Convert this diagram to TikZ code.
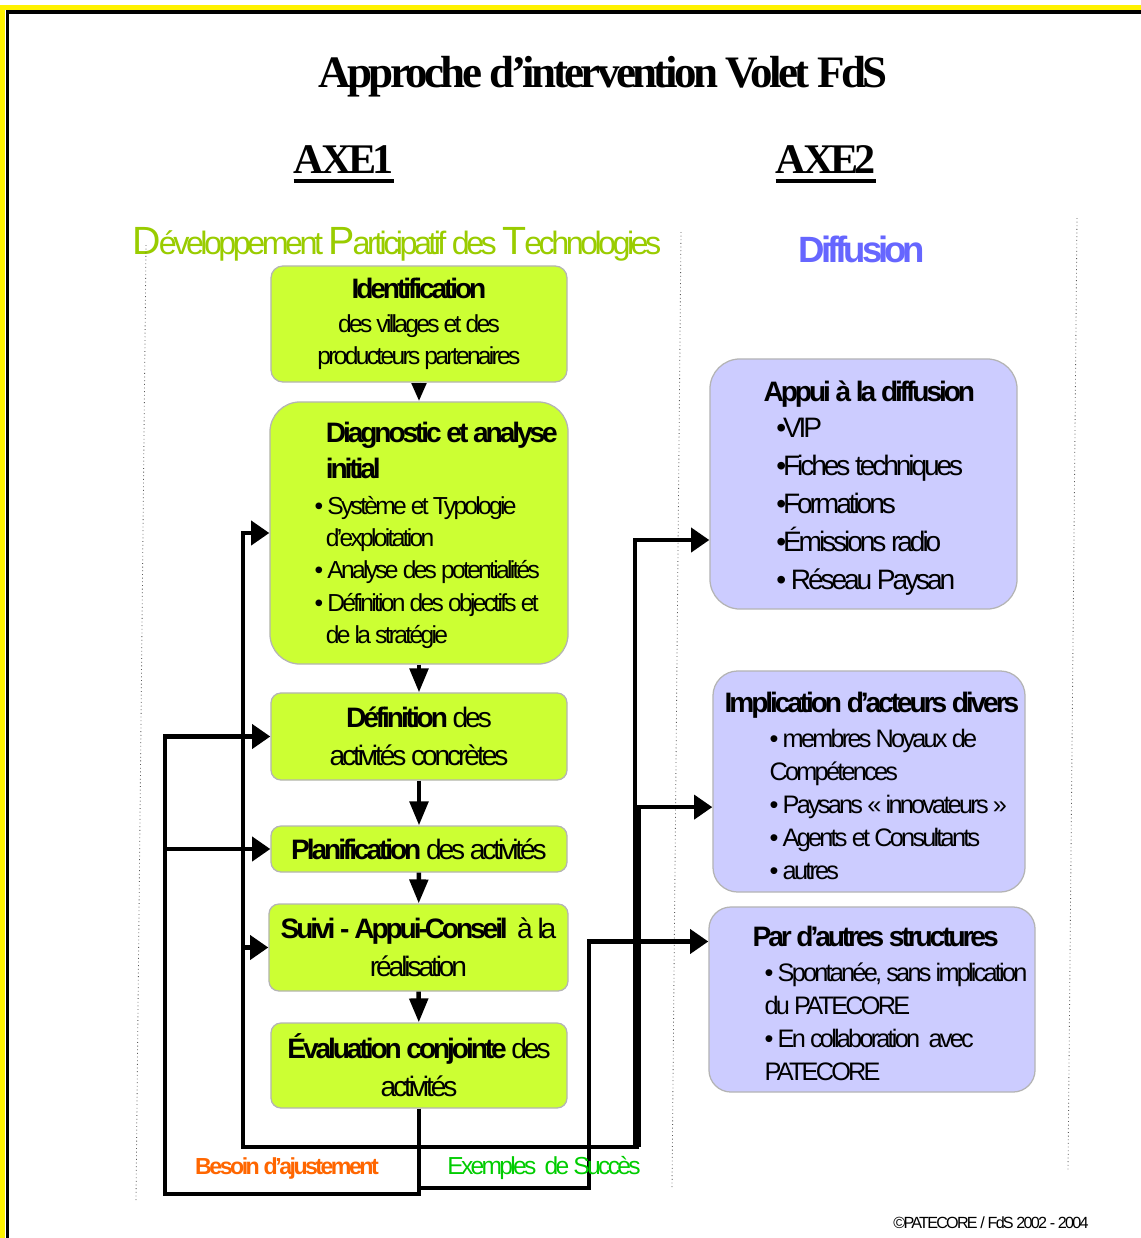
\documentclass[tikz,border=0pt]{standalone}
\usepackage{fontspec}
\setmainfont{Liberation Sans}[LetterSpace=-11]
\newfontfamily\titlefont{Liberation Serif}[LetterSpace=-8]
\usetikzlibrary{arrows.meta}
\definecolor{dptgreen}{HTML}{CCFF33}
\definecolor{diflav}{HTML}{CCCCFF}
\definecolor{boxedge}{HTML}{B4B4B4}
\definecolor{subgreen}{HTML}{99CC00}
\definecolor{difblue}{HTML}{6666FF}
\definecolor{besoinorange}{HTML}{FF6600}
\definecolor{succesgreen}{HTML}{00CC00}
\newcommand{\bodyfont}{\fontsize{17.5}{23}\selectfont}
\newcommand{\midfont}{\fontsize{20}{27}\selectfont}
\newcommand{\headfont}{\fontsize{20}{27}\selectfont\bfseries}
\newcommand{\grandcap}[1]{{\fontsize{28}{30}\selectfont #1}\kern-1.5pt}
\tikzset{
    stepgreen/.style = {
        rectangle,
        draw=boxedge,
        line width=0.9pt,
        fill=dptgreen,
        inner sep=0pt,
        align=center,
        minimum width=7.4cm,
        rounded corners=0.25cm
    },
    stepblue/.style = {
        stepgreen,
        fill=diflav,
        rounded corners=0.7cm
    },
    steptext/.style = {
        inner sep=0pt,
        align=left,
        anchor=north west
    },
    axe/.style = {
        anchor=base,
        inner sep=0pt,
        font=\titlefont\fontsize{30}{34}\selectfont\bfseries
    },
    flow/.style = {line width=3.2pt, -{Triangle[length=17pt,width=13pt]}},
    feed/.style = {line width=3.2pt, -{Triangle[length=13pt,width=17pt]}},
    sepline/.style = {dotted, line width=0.6pt, black!65}
}
\begin{document}
\begin{tikzpicture}[x=0.025cm, y=-0.025cm]
    \useasboundingbox (0,0) rectangle (1141,1238);
    \clip (0,0) rectangle (1141,1238);
    % frame
    \draw[yellow, line width=3.6pt] (2.5,1260) -- (2.5,7.5) -- (1160,7.5);
    \draw[black, line width=2.8pt] (7.5,1260) -- (7.5,12) -- (1160,12);
    % headings
    \node[anchor=base, font=\titlefont\fontsize{32}{36}\selectfont\bfseries] (titre) at (603,87) {Approche d’intervention Volet FdS};
    \node[axe] (axeA) at (344,173) {AXE1};
    \node[axe] (axeB) at (826,173) {AXE2};
    \draw[line width=3.4pt] ([yshift=-0.2cm]axeA.base west) -- ([yshift=-0.2cm]axeA.base east);
    \draw[line width=3.4pt] ([yshift=-0.2cm]axeB.base west) -- ([yshift=-0.2cm]axeB.base east);
    \node[anchor=base, text=subgreen, font=\fontsize{23}{27}\selectfont] (dpt) at (397,254)
        {\grandcap{D}éveloppement \grandcap{P}articipatif des \grandcap{T}echnologies};
    \node[anchor=base, text=difblue, font=\fontsize{26}{30}\selectfont\bfseries] (diffusion) at (862,262) {Diffusion};
    % column separators
    \draw[sepline] (146,245) -- (136,1200);
    \draw[sepline] (681,232) -- (672,1188);
    \draw[sepline] (1077,218) -- (1068,1172);
    % AXE1 steps
    \node[stepgreen, minimum height=2.9cm, rounded corners=0.3cm, font=\bodyfont] (ident) at (419,324)
        {{\headfont Identification}\\[1pt] des villages et des\\ producteurs partenaires};
    \node[stepgreen, minimum width=7.45cm, minimum height=6.55cm, rounded corners=0.75cm] (diag) at (419,533) {};
    \node[steptext, font=\bodyfont] (diagTxt) at ([xshift=1.125cm, yshift=-0.51cm]diag.north west)
        {\hspace*{8pt}{\headfont Diagnostic et analyse}\\[3pt]
         \hspace*{8pt}{\headfont initial}\\[2pt]
         • Système et Typologie\\
         \hspace*{8pt}d’exploitation\\
         • Analyse des potentialités\\
         • Définition des objectifs et\\
         \hspace*{8pt}de la stratégie};
    \node[stepgreen, minimum height=2.175cm, font=\midfont] (defin) at (419,736.5)
        {{\bfseries Définition} des\\ activités concrètes};
    \node[stepgreen, minimum height=1.15cm, font=\midfont] (plan) at (419,849)
        {{\bfseries Planification} des activités};
    \node[stepgreen, minimum width=7.475cm, minimum height=2.175cm, font=\midfont] (suivi) at (418.5,947.5)
        {{\bfseries Suivi - Appui-Conseil}\ \ à la\\ réalisation};
    \node[stepgreen, minimum height=2.125cm, font=\midfont] (eval) at (419,1065.5)
        {{\bfseries Évaluation conjointe} des\\ activités};
    % AXE2 boxes
    \node[stepblue, minimum width=7.675cm, minimum height=6.25cm, rounded corners=0.75cm] (appui) at (863.5,484) {};
    \node[steptext, font=\midfont] (appuiTxt) at ([xshift=1.35cm, yshift=-0.55cm]appui.north west)
        {{\bfseries Appui à la diffusion}\\[-1pt]
         \hspace*{9pt}•VIP\\
         \hspace*{9pt}•Fiches techniques\\
         \hspace*{9pt}•Formations\\
         \hspace*{9pt}•Émissions radio\\
         \hspace*{9pt}• Réseau Paysan};
    \node[stepblue, minimum width=7.8cm, minimum height=5.525cm, rounded corners=0.62cm] (impl) at (869,781.5) {};
    \node[steptext, font=\fontsize{18}{23.5}\selectfont] (implTxt) at ([xshift=0.3cm, yshift=-0.525cm]impl.north west)
        {{\headfont Implication d’acteurs divers}\\[1.5pt]
         \hspace*{32pt}• membres Noyaux de\\
         \hspace*{32pt}Compétences\\
         \hspace*{32pt}• Paysans « innovateurs »\\
         \hspace*{32pt}• Agents et Consultants\\
         \hspace*{32pt}• autres};
    \node[stepblue, minimum width=8.15cm, minimum height=4.625cm, rounded corners=0.55cm] (par) at (872,999.5) {};
    \node[steptext, font=\fontsize{18}{23.5}\selectfont] (parTxt) at ([xshift=1.1cm, yshift=-0.475cm]par.north west)
        {{\headfont Par d’autres structures}\\[1.5pt]
         \hspace*{8.5pt}• Spontanée, sans implication\\
         \hspace*{8.5pt}du PATECORE\\
         \hspace*{8.5pt}• En collaboration\ \ avec\\
         \hspace*{8.5pt}PATECORE};
    % main flow
    \draw[flow, -{Triangle[length=13pt,width=10pt]}] (ident) -- (diag);
    \draw[flow] (diag) -- (defin);
    \draw[flow] (defin) -- (plan);
    \draw[flow] (plan) -- (suivi);
    \draw[flow] (suivi) -- (eval);
    % feedback loops
    \coordinate (besoinR) at (419,1194);
    \coordinate (besoinL) at (165,1194);
    \coordinate (succesL) at (243,1147);
    \coordinate (succesA) at (635,1147);
    \coordinate (succesI) at (639,1147);
    \coordinate (exemplesL) at (420,1188);
    \coordinate (exemplesR) at (589,1188);
    \draw[feed] (eval.south) -- (besoinR) -- (besoinL) |- (defin.west);
    \draw[feed] (besoinL) |- (plan.west);
    \draw[feed] (succesI) -- (succesL) |- (diag.west);
    \draw[feed] (succesL) |- (suivi.west);
    \draw[feed] (succesA) |- ([yshift=-1.4cm]appui.west);
    \draw[feed] (succesI) |- ([yshift=-0.64cm]impl.west);
    \draw[feed] (exemplesL) -- (exemplesR) |- ([yshift=1.45cm]par.west);
    \node[text=besoinorange, font=\fontsize{16.5}{20}\selectfont\bfseries] (besoin) at (287,1168) {Besoin d’ajustement};
    \node[text=succesgreen, font=\fontsize{17.5}{20}\selectfont] (exemples) at (544,1168) {Exemples\ \ de Succès};
    \node[anchor=base, font=\fontsize{11.5}{14}\selectfont] (copyright) at (991,1228) {©PATECORE / FdS 2002 - 2004};
\end{tikzpicture}
\end{document}
